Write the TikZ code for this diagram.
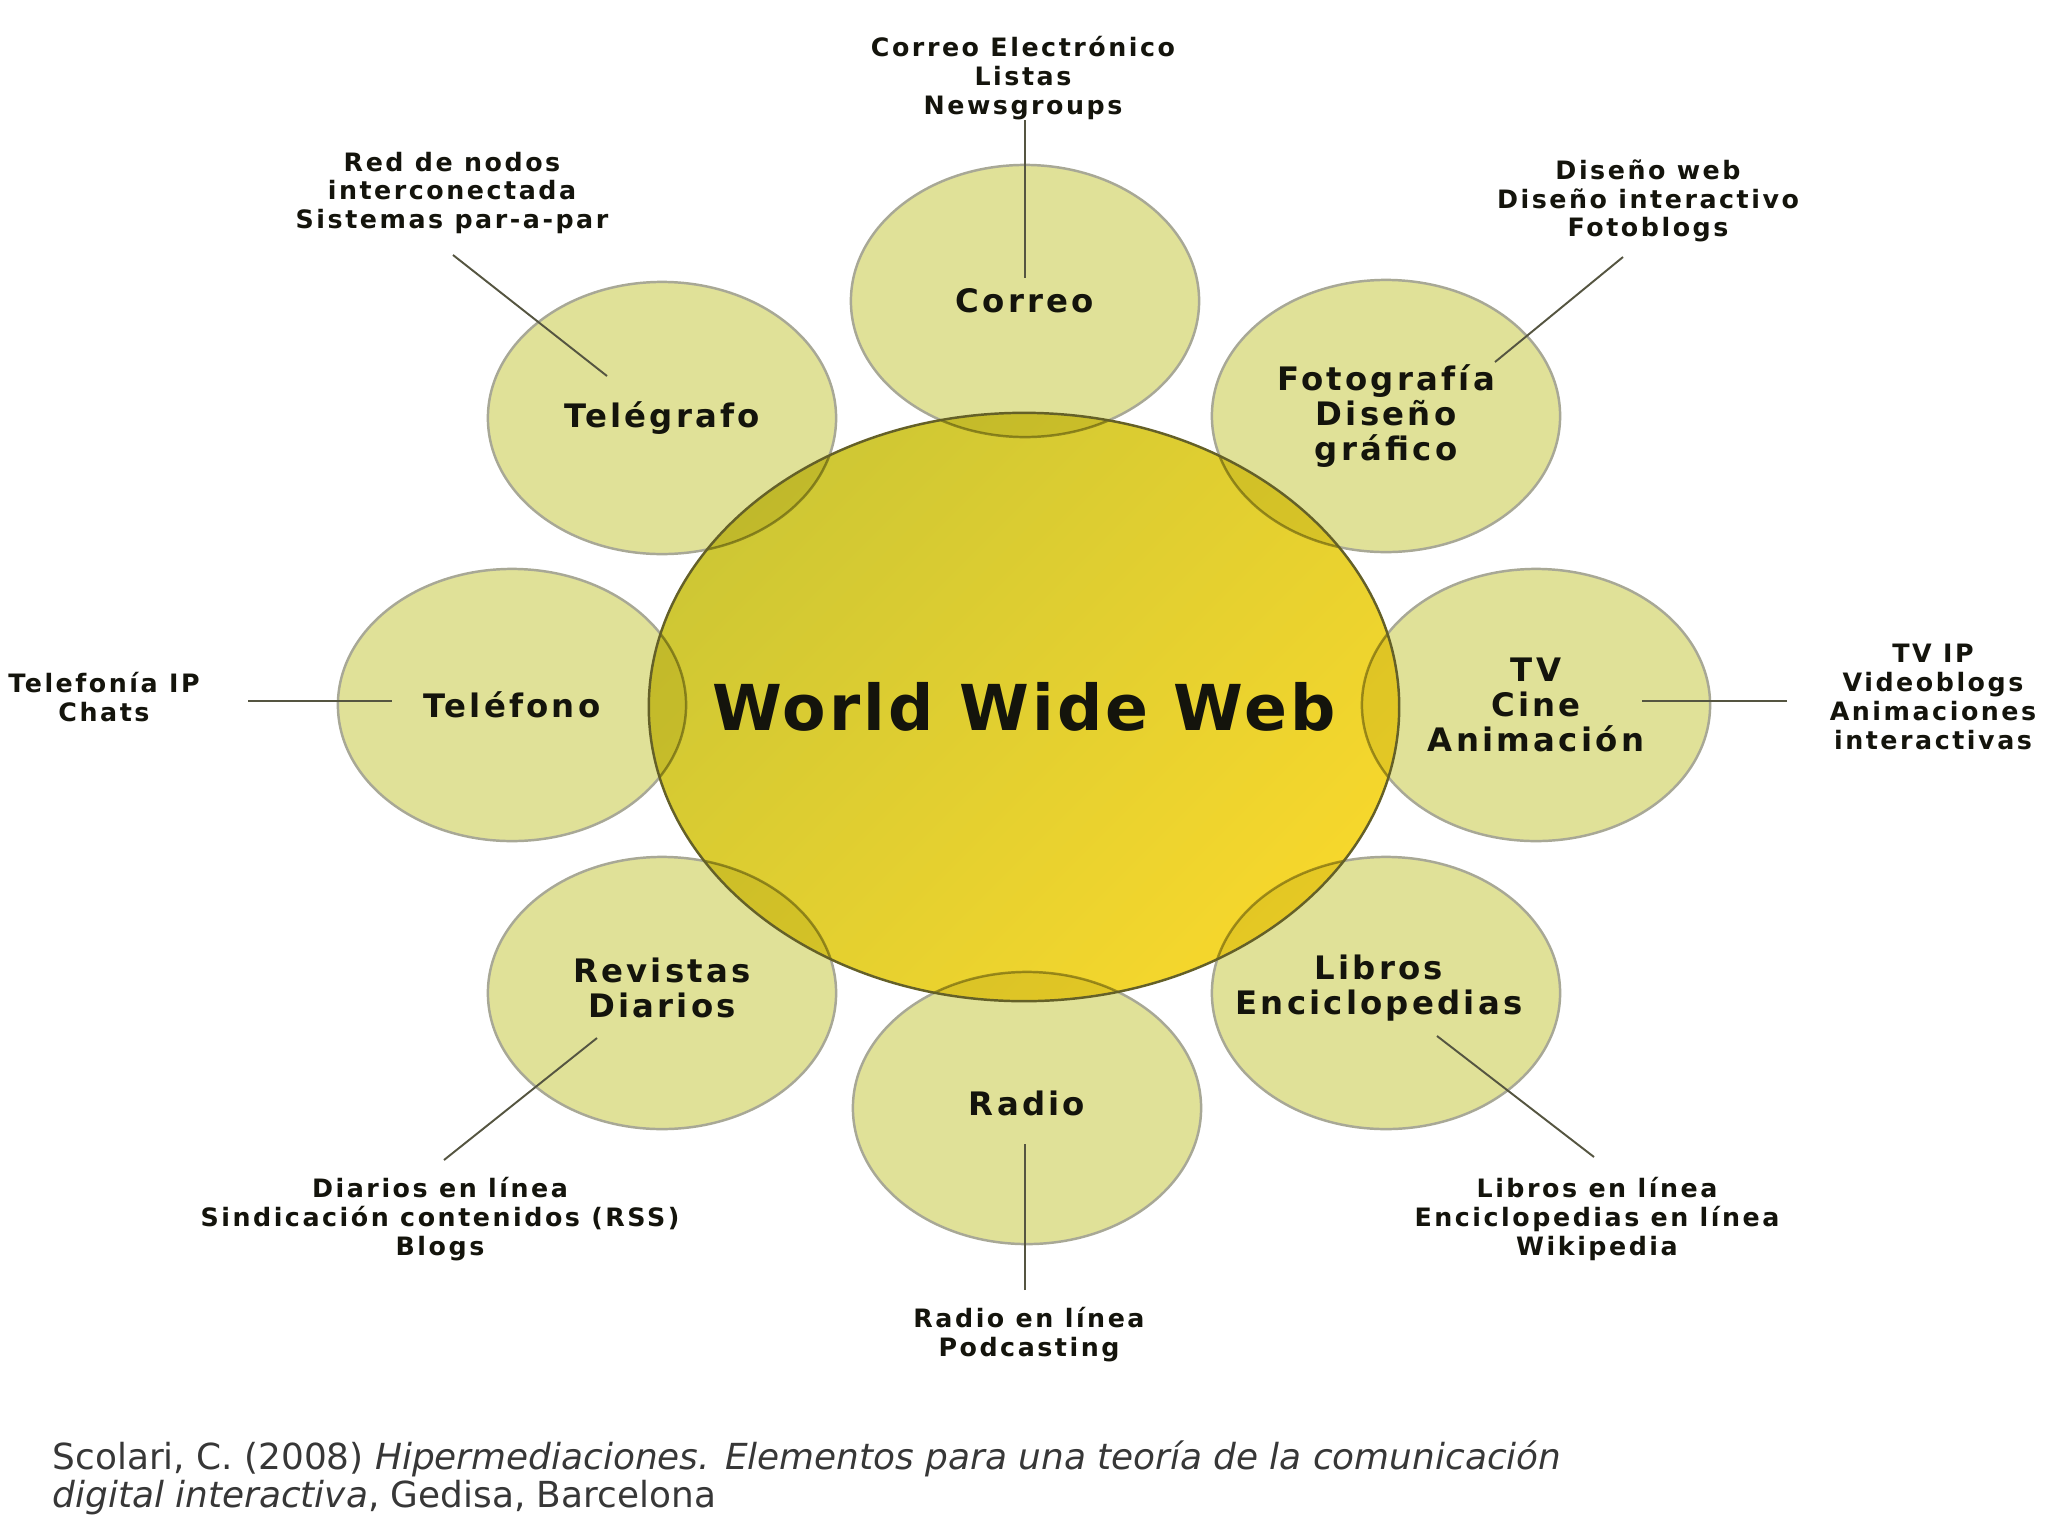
\documentclass[tikz,border=0pt]{standalone}
\usepackage{fontspec}
\setmainfont{DejaVu Sans}
\newfontfamily\lblfont{DejaVu Sans}[LetterSpace=10]
\newfontfamily\hubfont{DejaVu Sans}[LetterSpace=5]
\usetikzlibrary{shapes.geometric}
\definecolor{outerfill}{RGB}{224,225,152}
\definecolor{outertint}{RGB}{238,238,212}
\definecolor{outerline}{RGB}{168,168,150}
\definecolor{hubtop}{RGB}{206,199,52}
\definecolor{hubbot}{RGB}{246,215,44}
\definecolor{hubline}{RGB}{100,96,40}
\definecolor{txt}{RGB}{20,20,12}
\definecolor{conn}{RGB}{85,85,65}
\definecolor{captxt}{RGB}{55,55,55}
\tikzset{
  petal/.style={ellipse, draw=outerline, line width=0.7pt, fill=outerfill,
    minimum width=3.48cm, minimum height=2.72cm, inner sep=0pt},
  petaltext/.style={align=center, inner sep=0pt, text=txt,
    font=\lblfont\bfseries\fontsize{9.2}{10}\selectfont},
  hubstyle/.style={ellipse, top color=hubtop, bottom color=hubbot, shading angle=45,
    minimum width=7.5cm, minimum height=5.88cm, inner sep=0pt},
  hubtext/.style={inner sep=0pt, text=txt,
    font=\hubfont\bfseries\fontsize{18}{20}\selectfont},
  extlabel/.style={align=center, inner sep=0pt, text=txt,
    font=\lblfont\bfseries\fontsize{7.2}{8.2}\selectfont},
  link/.style={draw=conn, line width=0.55pt},
}
\begin{document}
\begin{tikzpicture}[x=0.01cm,y=-0.01cm]
\useasboundingbox (0,0) rectangle (2048,1536);
\fill[white] (0,0) rectangle (2048,1536);

% petals
\node[petal] (correo) at (1025,301) {};
\node[petal] (telegrafo) at (662,418) {};
\node[petal] (foto) at (1386,416) {};
\node[petal] (telefono) at (512,705) {};
\node[petal] (tv) at (1536,705) {};
\node[petal] (revistas) at (662,993) {};
\node[petal] (libros) at (1386,993) {};
\node[petal] (radio) at (1027,1108) {};

% central hub
\node[hubstyle] (hub) at (1024,707) {};

% overlaps of petals with the hub
\begin{scope}
\clip (hub.center) ellipse [x radius=3.75cm, y radius=2.94cm];
\begin{scope}[blend mode=multiply]
\foreach \p in {correo,telegrafo,foto,telefono,tv,revistas,libros,radio}
  \filldraw[fill=outertint, draw=outerline, line width=0.7pt]
    (\p.center) ellipse [x radius=1.74cm, y radius=1.36cm];
\end{scope}
\end{scope}
\draw[hubline, line width=0.7pt] (hub.center) ellipse [x radius=3.75cm, y radius=2.94cm];

% texts
\node[hubtext] (hubT) at (hub.center) {World Wide Web};
\node[petaltext] (correoT) at (correo.center) {Correo};
\node[petaltext] (telegrafoT) at (telegrafo.center) {Telégrafo};
\node[petaltext] (fotoT) at (foto.center) {Fotografía\\Diseño\\gráfico};
\node[petaltext] (telefonoT) at (telefono.center) {Teléfono};
\node[petaltext] (tvT) at (tv.center) {TV\\Cine\\Animación};
\node[petaltext] (revistasT) at ([yshift=0.05cm]revistas.center) {Revistas\\Diarios};
\node[petaltext] (librosT) at ([xshift=-0.07cm,yshift=0.05cm]libros.center) {Libros\\Enciclopedias};
\node[petaltext] (radioT) at ([yshift=0.05cm]radio.center) {Radio};

% external labels
\node[extlabel] (correoext) at (1023,78) {Correo Electrónico\\Listas\\Newsgroups};
\node[extlabel] (telegrafoext) at (452,193) {Red de nodos\\interconectada\\Sistemas par-a-par};
\node[extlabel] (fotoext) at (1648,201) {Diseño web\\Diseño interactivo\\Fotoblogs};
\node[extlabel] (telefonoext) at (104,697) {Telefonía IP\\Chats};
\node[extlabel] (tvext) at (1933,697) {TV IP\\Videoblogs\\Animaciones\\interactivas};
\node[extlabel] (revistasext) at (440,1219) {Diarios en línea\\Sindicación contenidos (RSS)\\Blogs};
\node[extlabel] (radioext) at (1029,1335) {Radio en línea\\Podcasting};
\node[extlabel] (librosext) at (1597,1219) {Libros en línea\\Enciclopedias en línea\\Wikipedia};

% connector end points
\coordinate (c1a) at (1025,120);  \coordinate (c1b) at (1025,278);
\coordinate (c2a) at (453,255);   \coordinate (c2b) at (607,376);
\coordinate (c3a) at (1623,257);  \coordinate (c3b) at (1495,362);
\coordinate (c4a) at (248,701);   \coordinate (c4b) at (392,701);
\coordinate (c5a) at (1787,701);  \coordinate (c5b) at (1642,701);
\coordinate (c6a) at (444,1160);  \coordinate (c6b) at (597,1038);
\coordinate (c7a) at (1025,1290); \coordinate (c7b) at (1025,1144);
\coordinate (c8a) at (1594,1157); \coordinate (c8b) at (1437,1036);

\draw[link] (c1a) -- (c1b);
\draw[link] (c2a) -- (c2b);
\draw[link] (c3a) -- (c3b);
\draw[link] (c4a) -- (c4b);
\draw[link] (c5a) -- (c5b);
\draw[link] (c6a) -- (c6b);
\draw[link] (c7a) -- (c7b);
\draw[link] (c8a) -- (c8b);

% caption
\node[anchor=west, align=left, inner sep=0pt, text=captxt,
      font=\fontsize{10.2}{10.6}\selectfont] (caption) at (52,1478)
  {Scolari, C. (2008) \textit{Hipermediaciones. Elementos para una teoría de la comunicación}\\
   \textit{digital interactiva}, Gedisa, Barcelona};
\end{tikzpicture}
\end{document}
